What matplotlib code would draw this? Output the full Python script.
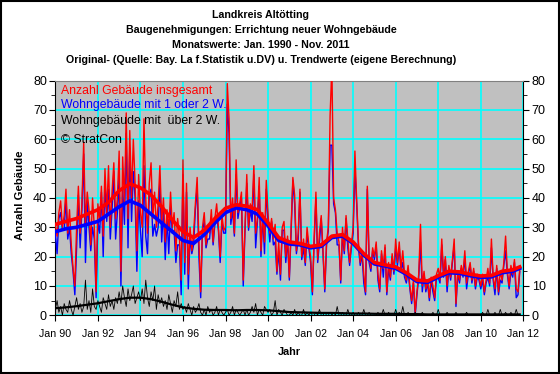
import numpy as np
import matplotlib
matplotlib.use("Agg")
import matplotlib.pyplot as plt
from matplotlib.patches import Rectangle

plt.rcParams['font.family'] = ['Liberation Sans', 'DejaVu Sans']

# Monatswerte Jan 1990 - Nov 2011 (one row per year)
total = [
    31, 27, 35, 39, 30, 34, 43, 28, 36, 24, 16, 10,   # 1990
    30, 44, 28, 38, 59, 31, 42, 36, 24, 40, 30, 8,    # 1991
    38, 32, 44, 27, 50, 35, 51, 30, 42, 52, 33, 40,   # 1992
    56, 15, 54, 38, 69, 33, 63, 40, 60, 45, 22, 48,   # 1993
    35, 30, 67, 40, 28, 45, 52, 33, 42, 30, 38, 51,   # 1994
    32, 40, 25, 36, 29, 42, 30, 35, 22, 33, 27, 12,   # 1995
    53, 18, 45, 14, 30, 22, 28, 38, 47, 25, 8, 30,    # 1996
    35, 24, 30, 28, 36, 25, 33, 38, 30, 20, 34, 29,   # 1997
    30, 79, 67, 33, 40, 28, 53, 35, 38, 42, 12, 30,   # 1998
    48, 30, 38, 36, 51, 28, 33, 47, 22, 35, 25, 46,   # 1999
    34, 28, 33, 26, 31, 15, 25, 14, 30, 32, 20, 27,   # 2000
    13, 30, 47, 41, 22, 28, 43, 20, 26, 18, 30, 24,   # 2001
    20, 8, 26, 42, 19, 28, 34, 22, 9, 25, 30, 68,     # 2002
    85, 40, 36, 28, 25, 12, 30, 22, 34, 26, 18, 24,   # 2003
    30, 56, 39, 25, 18, 22, 14, 8, 44, 20, 16, 23,    # 2004
    20, 25, 14, 9, 22, 16, 24, 8, 18, 13, 21, 15,     # 2005
    26, 18, 25, 16, 22, 14, 12, 17, 10, 5, 12, 1,     # 2006
    8, 14, 31, 10, 15, 9, 12, 6, 13, 10, 6, 14,       # 2007
    16, 12, 26, 14, 20, 10, 17, 13, 19, 26, 4, 15,    # 2008
    12, 17, 14, 22, 11, 15, 18, 12, 16, 10, 14, 13,   # 2009
    10, 14, 8, 12, 16, 11, 26, 13, 9, 17, 8, 15,      # 2010
    12, 18, 27, 15, 10, 17, 14, 19, 9, 8, 16,         # 2011
]

w12 = [
    28, 21, 33, 35, 29, 29, 40, 26, 30, 21, 15, 7,
    23, 41, 23, 36, 55, 18, 39, 30, 22, 30, 26, 6,
    32, 28, 42, 20, 45, 32, 43, 26, 36, 49, 26, 35,
    47, 10, 43, 31, 62, 23, 57, 32, 49, 40, 15, 39,
    29, 20, 51, 27, 21, 41, 43, 27, 31, 27, 30, 46,
    25, 36, 19, 33, 21, 37, 28, 29, 18, 24, 24, 7,
    48, 14, 42, 9, 27, 21, 24, 36, 44, 20, 6, 29,
    32, 23, 26, 26, 33, 24, 31, 34, 29, 18, 32, 28,
    28, 72, 62, 31, 36, 27, 48, 33, 37, 40, 10, 29,
    45, 29, 36, 32, 48, 23, 32, 44, 20, 34, 21, 43,
    32, 25, 32, 24, 25, 14, 22, 12, 29, 29, 18, 26,
    12, 28, 46, 38, 21, 26, 42, 19, 23, 17, 28, 23,
    18, 7, 25, 40, 18, 25, 33, 21, 8, 24, 29, 58,
    58, 38, 35, 24, 24, 11, 28, 21, 33, 23, 17, 23,
    28, 50, 38, 23, 17, 21, 11, 7, 43, 18, 15, 22,
    19, 24, 12, 8, 21, 13, 23, 7, 16, 12, 20, 14,
    23, 17, 23, 15, 18, 13, 11, 15, 9, 4, 11, 0,
    7, 13, 25, 8, 14, 8, 11, 5, 12, 8, 5, 13,
    13, 11, 24, 13, 19, 8, 16, 12, 18, 24, 3, 14,
    11, 16, 13, 20, 9, 14, 17, 11, 15, 9, 13, 12,
    9, 12, 7, 11, 13, 10, 23, 12, 7, 16, 7, 12,
    11, 17, 22, 14, 9, 15, 13, 18, 6, 7, 15,
]

w3 = [
    2, 5, 1, 3, 0, 4, 2, 1, 5, 2, 0, 3,
    6, 2, 4, 1, 3, 12, 2, 5, 1, 9, 3, 2,
    5, 3, 1, 6, 4, 2, 7, 3, 5, 2, 6, 4,
    8, 4, 10, 6, 3, 9, 5, 7, 10, 4, 6, 8,
    5, 9, 4, 12, 6, 3, 8, 5, 10, 2, 7, 4,
    6, 3, 5, 2, 7, 4, 1, 5, 3, 8, 2, 4,
    2, 3, 1, 4, 2, 0, 3, 1, 2, 4, 1, 0,
    2, 0, 3, 1, 2, 0, 1, 3, 0, 2, 1, 0,
    1, 2, 0, 1, 3, 0, 2, 1, 0, 1, 2, 0,
    2, 0, 1, 3, 1, 4, 0, 2, 1, 0, 3, 2,
    1, 2, 0, 1, 5, 0, 2, 1, 0, 2, 1, 0,
    0, 1, 0, 2, 0, 1, 0, 0, 2, 0, 1, 0,
    1, 0, 0, 1, 0, 2, 0, 0, 1, 0, 0, 1,
    0, 1, 0, 3, 0, 0, 1, 0, 0, 2, 0, 0,
    1, 0, 0, 1, 0, 0, 2, 0, 0, 1, 0, 0,
    0, 0, 1, 0, 0, 2, 0, 0, 1, 0, 0, 0,
    2, 0, 1, 0, 3, 0, 0, 1, 0, 0, 0, 1,
    0, 0, 0, 1, 0, 0, 0, 0, 0, 1, 0, 0,
    2, 0, 0, 0, 0, 1, 0, 0, 0, 0, 1, 0,
    0, 0, 0, 0, 1, 0, 0, 0, 0, 0, 0, 0,
    0, 1, 0, 0, 2, 0, 0, 0, 1, 0, 0, 2,
    0, 0, 1, 0, 0, 1, 0, 0, 2, 0, 0,
]

# Trendwerte (read at half-year steps)
trend_t = [1990.0, 1990.5, 1991.0, 1991.5, 1992.0, 1992.5, 1993.0, 1993.5,
           1994.0, 1994.5, 1995.0, 1995.5, 1996.0, 1996.5, 1997.0, 1997.5,
           1998.0, 1998.5, 1999.0, 1999.5, 2000.0, 2000.5, 2001.0, 2001.5,
           2002.0, 2002.5, 2003.0, 2003.5, 2004.0, 2004.5, 2005.0, 2005.5,
           2006.0, 2006.5, 2007.0, 2007.5, 2008.0, 2008.5, 2009.0, 2009.5,
           2010.0, 2010.5, 2011.0, 2011.5, 2011.83]
trend_total = [31, 32, 33, 34.5, 36, 38.5, 42.5, 44.8,
               43.5, 41, 37, 32.5, 28.5, 26.5, 29, 33,
               36.5, 37.7, 37.2, 36, 31.5, 26.5, 25, 24.5,
               23.5, 24, 27, 27.5, 25, 21, 18, 17.2,
               16.5, 14.5, 12, 11.7, 13.5, 15, 14.8, 14,
               13.4, 13.6, 15, 15.5, 16.5]
trend_w12 = [28.5, 29.5, 30, 31, 32, 34.5, 37, 39,
             37.5, 34.5, 31.5, 28.5, 25.5, 24.5, 27.5, 31.5,
             35, 36.6, 36, 34.5, 30.5, 25.5, 24.3, 24,
             23, 23.5, 26.5, 27, 24.5, 20.5, 17.5, 16.8,
             16, 14, 11.5, 11.2, 13, 14.5, 14.3, 13.5,
             12.9, 13.1, 14.5, 15, 16]
trend_w3 = [2.4, 2.7, 3.1, 3.6, 4.1, 4.8, 5.5, 6,
            6, 5.5, 4.6, 3.6, 2.7, 2.2, 1.9, 1.8,
            1.8, 1.7, 1.8, 1.8, 1.7, 1.4, 1.1, 1.0,
            0.9, 0.8, 0.8, 0.7, 0.6, 0.6, 0.5, 0.5,
            0.5, 0.4, 0.4, 0.3, 0.3, 0.3, 0.3, 0.3,
            0.3, 0.3, 0.3, 0.3, 0.3]

xticks = [1990, 1992, 1994, 1996, 1998, 2000, 2002, 2004, 2006, 2008, 2010, 2012]
xlabels = ["Jan 90", "Jan 92", "Jan 94", "Jan 96", "Jan 98", "Jan 00",
           "Jan 02", "Jan 04", "Jan 06", "Jan 08", "Jan 10", "Jan 12"]

months = 1990 + np.arange(len(total)) / 12.0

fig = plt.figure(figsize=(5.6, 3.74), dpi=100)
ax = fig.add_axes([0.0988, 0.157, 0.8357, 0.6273])
ax.set_facecolor('#C0C0C0')

# raw monthly values
ax.plot(months, w12, color='#0000FF', lw=1.0, zorder=3)
ax.plot(months, total, color='#FF0000', lw=1.0, zorder=4)
ax.plot(months, w3, color='black', lw=0.6, zorder=5)
# trends
ax.plot(trend_t, trend_w12, color='#0000FF', lw=2.6, zorder=6)
ax.plot(trend_t, trend_total, color='#FF0000', lw=2.6, zorder=7)
ax.plot(trend_t, trend_w3, color='black', lw=1.6, zorder=8)

ax.set_xlim(1990, 2012)
ax.set_ylim(0, 80)
ax.set_xticks(xticks)
ax.set_xticklabels(xlabels, fontsize=7.7)
ax.set_yticks(range(0, 81, 10))
ax.set_yticks(range(0, 81, 5), minor=True)
ax.tick_params(axis='y', which='both', left=True, right=True,
               labelleft=True, labelright=True, labelsize=9, length=4, pad=2)
ax.tick_params(axis='y', which='minor', length=3)
ax.tick_params(axis='x', length=4, pad=6)

ax.grid(True, which='major', color='#00FFFF', lw=1.2, zorder=1)
ax.set_axisbelow(True)
ax.spines['top'].set_color('#808080')
for s in ['left', 'right', 'bottom']:
    ax.spines[s].set_color('black')

ax.text(0.012, 0.956, "Anzahl Gebäude insgesamt", color='#FF0000',
        fontsize=8.8, transform=ax.transAxes, va='center', zorder=10)
ax.text(0.012, 0.896, "Wohngebäude mit 1 oder 2 W.", color='#0000FF',
        fontsize=8.8, transform=ax.transAxes, va='center', zorder=10)
ax.text(0.012, 0.826, "Wohngebäude mit  über 2 W.", color='black',
        fontsize=8.8, transform=ax.transAxes, va='center', zorder=10)
ax.text(0.012, 0.747, "© StratCon", color='black',
        fontsize=8.8, transform=ax.transAxes, va='center', zorder=10)

titles = ["Landkreis Altötting",
          "Baugenehmigungen: Errichtung neuer Wohngebäude",
          "Monatswerte: Jan. 1990 - Nov. 2011",
          "Original- (Quelle: Bay. La f.Statistik u.DV) u. Trendwerte (eigene Berechnung)"]
for i, t in enumerate(titles):
    fig.text(0.466, 0.960 - i * 0.040, t, ha='center', va='center',
             fontsize=7.7, fontweight='bold')

fig.text(0.036, 0.479, "Anzahl Gebäude", rotation=90, ha='center', va='center',
         fontsize=8.2, fontweight='bold')
fig.text(0.516, 0.059, "Jahr", ha='center', va='center',
         fontsize=7.8, fontweight='bold')

fig.add_artist(Rectangle((0.001, 0.002), 0.997, 0.995, transform=fig.transFigure,
                         fill=False, edgecolor='black', lw=1.5))

fig.savefig("out.png", dpi=100)
